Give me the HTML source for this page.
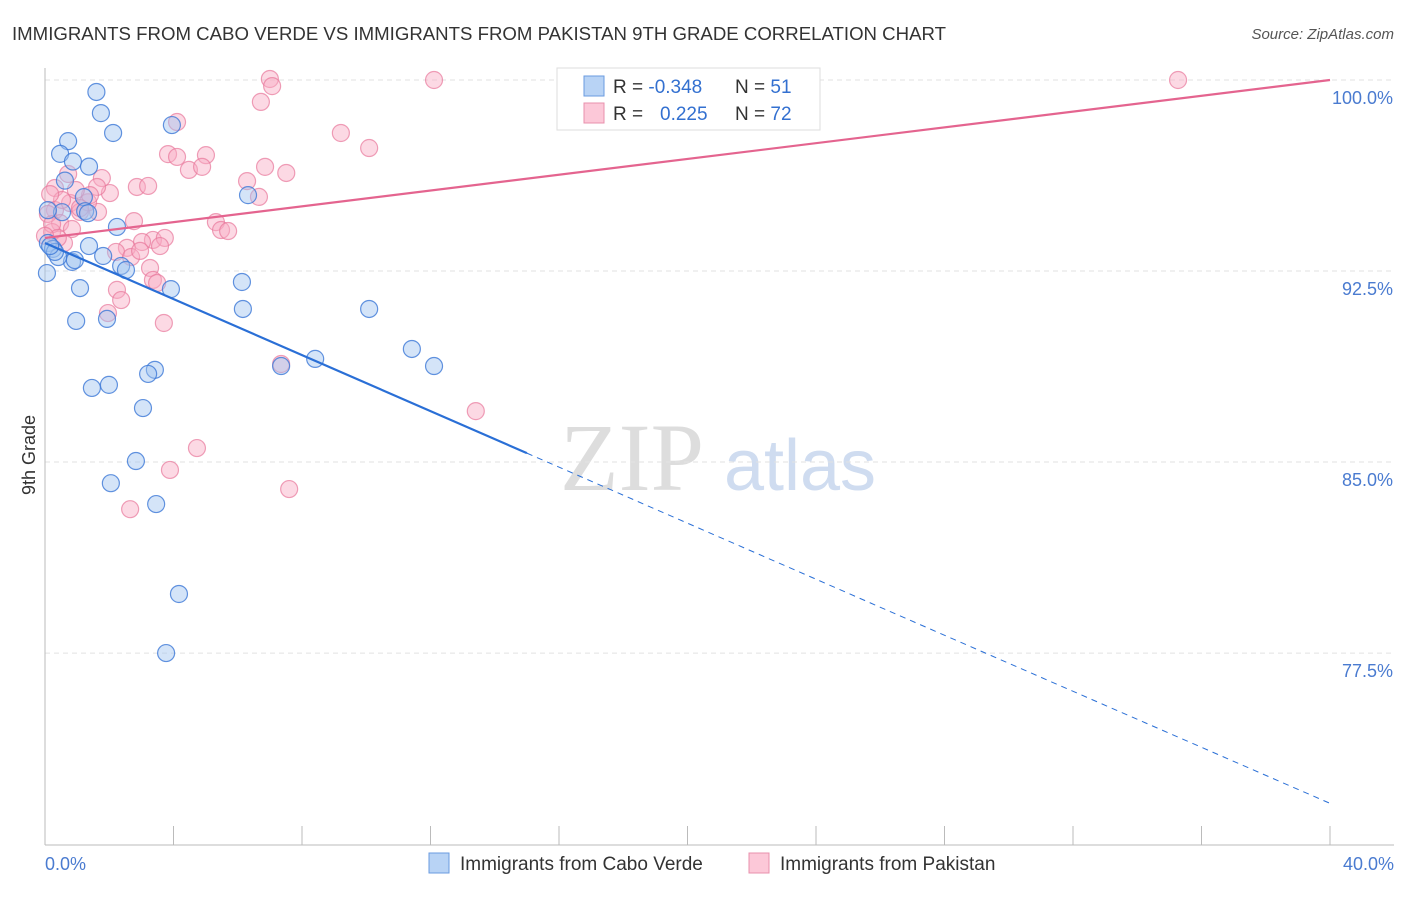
<!DOCTYPE html>
<html><head><meta charset="utf-8"><style>
body{margin:0;background:#fff;font-family:"Liberation Sans",sans-serif}
</style></head><body>
<svg width="1406" height="892" font-family="Liberation Sans, sans-serif">
<text x="12" y="40" font-size="18" fill="#333" textLength="934" lengthAdjust="spacingAndGlyphs">IMMIGRANTS FROM CABO VERDE VS IMMIGRANTS FROM PAKISTAN 9TH GRADE CORRELATION CHART</text>
<text x="1394" y="39" font-size="15" fill="#555" text-anchor="end" font-style="italic">Source: ZipAtlas.com</text>
<text x="632" y="490" font-size="96" fill="#ddd" font-family="Liberation Serif, serif" text-anchor="middle">ZIP</text>
<text x="800" y="490" font-size="72" fill="#cfdcf0" text-anchor="middle">atlas</text>
<g id="grid"></g>
<line x1="45" y1="68" x2="45" y2="845" stroke="#bbb"/>
<line x1="45" y1="845" x2="1394" y2="845" stroke="#bbb"/>
<text x="35" y="455" font-size="18" fill="#333" transform="rotate(-90 35 455)" text-anchor="middle">9th Grade</text>
<text x="45" y="870" font-size="18" fill="#4a7bd0">0.0%</text>
<text x="1394" y="870" font-size="18" fill="#4a7bd0" text-anchor="end">40.0%</text>
<g id="pts"></g>
<g id="lines"></g>
<g>
<rect x="557" y="68" width="263" height="62" fill="#fff" stroke="#ddd"/>
<rect x="584" y="76" width="20" height="20" fill="#b8d3f5" stroke="#6a9be0"/>
<rect x="584" y="103" width="20" height="20" fill="#fcc8d8" stroke="#e890ac"/>
<text x="613" y="93" font-size="19" fill="#333">R = <tspan fill="#3370d0">-0.348</tspan></text>
<text x="735" y="93" font-size="19" fill="#333">N = <tspan fill="#3370d0">51</tspan></text>
<text x="613" y="120" font-size="19" fill="#333">R = <tspan fill="#3370d0" x="660">0.225</tspan></text>
<text x="735" y="120" font-size="19" fill="#333">N = <tspan fill="#3370d0">72</tspan></text>
</g>
<g>
<rect x="429" y="853" width="20" height="20" fill="#b8d3f5" stroke="#6a9be0"/>
<text x="460" y="870" font-size="19" fill="#333">Immigrants from Cabo Verde</text>
<rect x="749" y="853" width="20" height="20" fill="#fcc8d8" stroke="#e890ac"/>
<text x="780" y="870" font-size="19" fill="#333">Immigrants from Pakistan</text>
</g>
</svg>
<script>
const yTicks=[100,92.5,85,77.5];
const yTickLabels=["100.0%","92.5%","85.0%","77.5%"];
const xTicks=[0,4,8,12,16,20,24,28,32,36,40];
const blueX=[1.6,1.74,2.12,0.72,0.47,0.87,1.37,0.62,3.95,6.32,1.21,1.25,2.24,0.09,0.25,1.37,1.81,0.84,0.41,2.37,2.52,0.06,1.09,3.92,6.13,6.16,0.97,1.93,10.09,8.41,7.35,11.42,12.11,3.42,3.21,1.46,1.99,3.05,2.83,2.05,3.46,4.17,3.77,0.53,0.93,0.31,0.16,0.09,1.34];
const blueY=[99.53,98.7,97.92,97.6,97.1,96.8,96.6,96.05,98.23,95.48,95.4,94.85,94.23,93.6,93.37,93.48,93.09,92.86,93.05,92.7,92.54,92.42,91.83,91.79,92.07,91.01,90.54,90.62,91.01,89.05,88.77,89.44,88.77,88.62,88.46,87.91,88.03,87.12,85.04,84.17,83.35,79.82,77.5,94.81,92.93,93.25,93.48,94.89,94.77];
const pinkX=[7.0,7.07,12.11,35.27,16.37,6.72,4.11,9.21,10.09,3.83,5.01,4.11,4.48,4.89,6.85,7.51,6.29,0.72,0.31,1.77,2.02,2.86,3.21,1.62,6.66,5.32,5.48,5.7,2.77,0.78,0.31,1.09,1.65,0.47,0.22,3.36,3.02,2.55,2.21,3.73,3.58,2.68,3.27,3.36,3.49,2.24,2.37,1.96,3.7,7.35,13.41,4.73,3.89,7.6,2.65,1.34,0.53,1.4,0.96,0.16,0.09,0.22,0.84,2.96,0.59,0.4,0,1.09];
const pinkY=[100.04,99.76,100,100,100,99.14,98.35,97.92,97.33,97.09,97.05,96.98,96.47,96.59,96.59,96.35,96.03,96.31,95.76,96.15,95.56,95.8,95.84,95.8,95.41,94.42,94.11,94.07,94.46,95.17,94.89,94.82,94.82,94.38,94.03,93.72,93.64,93.41,93.25,93.8,93.48,93.05,92.62,92.15,92.03,91.76,91.36,90.85,90.46,88.85,87.0,85.55,84.69,83.94,83.15,95.2,95.29,95.48,95.68,95.52,94.74,94.34,94.15,93.29,93.6,93.8,93.88,94.97];
const blueLine=[0,93.6,15,85.35];
const blueDash=[15,85.35,40,71.6];
const pinkLine=[0,93.8,40,100];
const X=v=>45+v/40*1285, Y=v=>80+(100-v)*25.47;
const NS="http://www.w3.org/2000/svg";
const grid=document.getElementById('grid');
yTicks.forEach((t,i)=>{
 const l=document.createElementNS(NS,'line');
 
 
 l.setAttribute('x1',45);l.setAttribute('x2',1394);l.setAttribute('y1',Y(t));l.setAttribute('y2',Y(t));
 l.setAttribute('stroke','#e2e2e2');l.setAttribute('stroke-dasharray','5,4');grid.appendChild(l);
 const tx=document.createElementNS(NS,'text');
 
 
 tx.setAttribute('x',1393);tx.setAttribute('y',Y(t)+24);tx.setAttribute('text-anchor','end');
 tx.setAttribute('font-size','18');tx.setAttribute('fill','#4a7bd0');tx.textContent=yTickLabels[i];grid.appendChild(tx);
});
xTicks.forEach(t=>{
 const l=document.createElementNS(NS,'line');
 
 
 l.setAttribute('x1',X(t));l.setAttribute('x2',X(t));l.setAttribute('y1',826);l.setAttribute('y2',845);
 l.setAttribute('stroke','#bbb');grid.appendChild(l);
});
const pts=document.getElementById('pts');
function dots(xs,ys,fill,stroke,name){xs.forEach((x,i)=>{
 const c=document.createElementNS(NS,'circle');
 
 
 c.setAttribute('cx',X(x));c.setAttribute('cy',Y(ys[i]));c.setAttribute('r',8.5);
 c.setAttribute('fill',fill);c.setAttribute('stroke',stroke);c.setAttribute('stroke-width','1.2');pts.appendChild(c);});}
dots(pinkX,pinkY,'rgba(248,170,195,0.45)','rgba(232,120,155,0.7)','pakistan-point');
dots(blueX,blueY,'rgba(160,195,240,0.45)','rgba(60,120,215,0.8)','cabo-verde-point');
const lines=document.getElementById('lines');
function ln(a,col,w,dash,name){const l=document.createElementNS(NS,'line');
 
 
 l.setAttribute('x1',X(a[0]));l.setAttribute('y1',Y(a[1]));l.setAttribute('x2',X(a[2]));l.setAttribute('y2',Y(a[3]));
 l.setAttribute('stroke',col);l.setAttribute('stroke-width',w);if(dash)l.setAttribute('stroke-dasharray',dash);lines.appendChild(l);}
ln(blueLine,'#2a6fd6',2.2,null,'cabo-verde-trendline');
ln(blueDash,'#2a6fd6',1,'6,5','cabo-verde-trend-extension');
ln(pinkLine,'#e4648f',2.2,null,'pakistan-trendline');
</script>
</body></html>
